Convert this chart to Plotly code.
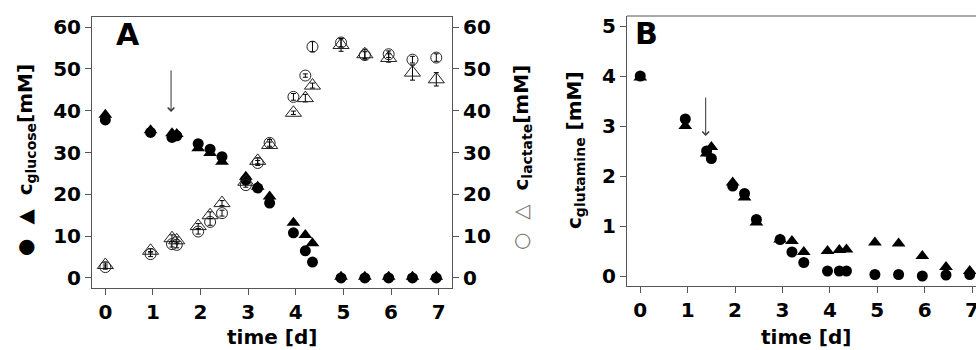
import plotly.graph_objects as go

# ---------------- data ----------------
time_d = [0, 0.95, 1.4, 1.5, 1.95, 2.2, 2.45, 2.95, 3.2, 3.45, 3.95, 4.2, 4.35,
          4.95, 5.45, 5.95, 6.45, 6.95]

glucose_circle = [37.8, 34.8, 33.6, 34.0, 32.1, 30.8, 29.0, 23.4, 21.5, 17.9,
                  10.8, 6.5, 3.8, 0.0, 0.0, 0.0, 0.0, 0.0]
glucose_triangle = [39.0, 35.3, 34.6, 34.4, 31.0, 29.9, 27.8, 24.2, 21.8, 19.5,
                    13.2, 10.3, 8.3, 0.3, 0.3, 0.3, 0.3, 0.3]

lactate_circle = [2.6, 5.7, 8.1, 7.9, 11.1, 13.4, 15.5, 22.2, 27.5, 32.3,
                  43.3, 48.4, 55.3, 56.3, 53.3, 53.5, 52.2, 52.7]
lactate_circle_err = [0.5, 0.6, 0.7, 0.7, 0.6, 0.8, 0.7, 0.5, 0.6, 0.8,
                      0.8, 0.4, 1.2, 1.0, 0.8, 0.8, 0.8, 0.9]
lactate_triangle = [3.1, 6.5, 9.5, 9.0, 12.4, 15.0, 17.9, 23.0, 28.0, 31.8,
                    39.5, 43.0, 46.0, 55.7, 53.5, 52.6, 49.1, 47.5]
lactate_triangle_err = [0.5, 0.5, 0.8, 0.8, 0.6, 0.8, 0.6, 0.5, 0.7, 0.7,
                        0.4, 0.9, 0.6, 1.5, 1.2, 1.0, 1.8, 1.6]

glutamine_circle = [4.0, 3.14, 2.5, 2.35, 1.8, 1.65, 1.13, 0.73, 0.48, 0.27,
                    0.1, 0.1, 0.1, 0.03, 0.03, 0.0, 0.02, 0.03]
glutamine_triangle = [3.97, 3.0, 2.45, 2.58, 1.87, 1.57, 1.07, 0.73, 0.70, 0.48,
                      0.5, 0.52, 0.53, 0.67, 0.65, 0.4, 0.18, 0.1]

x_ticks = [0, 1, 2, 3, 4, 5, 6, 7]
yA_ticks = [0, 10, 20, 30, 40, 50, 60]
yB_ticks = [0, 1, 2, 3, 4, 5]

feed_time = 1.38  # arrow position (feed)

# ---------------- styling ----------------
W, H = 976, 350
FONT = "DejaVu Sans"
GRAY = "#555555"
tickfont = dict(family=FONT, size=20, color="black", weight="bold")


def px_x(p):
    return p / W


def px_y(p):
    return 1 - p / H


fig = go.Figure()

# Panel A: lactate (open) on y2
fig.add_trace(go.Scatter(
    x=time_d, y=lactate_triangle, mode="markers", xaxis="x", yaxis="y2",
    error_y=dict(type="data", array=lactate_triangle_err, color="black",
                 thickness=1, width=2.5),
    marker=dict(symbol="triangle-up-open", size=14, color="#222222",
                line=dict(width=1, color="#222222"))))
fig.add_trace(go.Scatter(
    x=time_d, y=lactate_circle, mode="markers", xaxis="x", yaxis="y2",
    error_y=dict(type="data", array=lactate_circle_err, color="black",
                 thickness=1, width=2.5),
    marker=dict(symbol="circle-open", size=11, color="#222222",
                line=dict(width=1, color="#222222"))))
# Panel A: glucose (filled)
fig.add_trace(go.Scatter(
    x=time_d, y=glucose_triangle, mode="markers", xaxis="x", yaxis="y",
    marker=dict(symbol="triangle-up", size=12, color="black",
                line=dict(width=0))))
fig.add_trace(go.Scatter(
    x=time_d, y=glucose_circle, mode="markers", xaxis="x", yaxis="y",
    marker=dict(symbol="circle", size=11, color="black", line=dict(width=0))))

# Panel B: glutamine
fig.add_trace(go.Scatter(
    x=time_d, y=glutamine_triangle, mode="markers", xaxis="x2", yaxis="y3",
    marker=dict(symbol="triangle-up", size=12, color="black",
                line=dict(width=0))))
fig.add_trace(go.Scatter(
    x=time_d, y=glutamine_circle, mode="markers", xaxis="x2", yaxis="y3",
    marker=dict(symbol="circle", size=11, color="black", line=dict(width=0))))

axis_common = dict(showgrid=False, zeroline=False, ticks="outside", ticklen=6,
                   tickwidth=1, tickcolor=GRAY, tickfont=tickfont,
                   showline=True, linecolor=GRAY, linewidth=1,
                   automargin=False)

fig.update_layout(
    width=W, height=H,
    margin=dict(l=0, r=0, t=0, b=0),
    paper_bgcolor="white", plot_bgcolor="white",
    showlegend=False,
    xaxis=dict(domain=[px_x(92), px_x(452)], range=[-0.28, 7.28],
               tickvals=x_ticks, mirror=True, anchor="y", **axis_common),
    yaxis=dict(domain=[px_y(288), px_y(17)], range=[-2.4, 62.4],
               tickvals=yA_ticks, mirror=True, anchor="x", **axis_common),
    yaxis2=dict(domain=[px_y(288), px_y(17)], range=[-2.4, 62.4],
                tickvals=yA_ticks, overlaying="y", side="right", anchor="x",
                **axis_common),
    xaxis2=dict(domain=[px_x(627), 1.0],
                range=[-0.28, -0.28 + (976 - 627) / 47.4],
                tickvals=x_ticks, anchor="y3", ticklabeloverflow="allow",
                **axis_common),
    yaxis3=dict(domain=[px_y(286), px_y(16)], range=[-0.2, 5.2],
                tickvals=yB_ticks, anchor="x2", **axis_common),
)

# top frame line of panel B (its right edge is cut off by the image)
fig.add_shape(type="line", xref="paper", yref="paper",
              x0=px_x(627), x1=1.0, y0=px_y(16), y1=px_y(16),
              line=dict(color=GRAY, width=1))

title_font = dict(family=FONT, size=20, color="black", weight="bold")

annotations = [
    # panel letters
    dict(text="A", x=px_x(128), y=px_y(34), xref="paper", yref="paper",
         showarrow=False, font=dict(family=FONT, size=30, color="black",
                                    weight="bold"),
         xanchor="center", yanchor="middle"),
    dict(text="B", x=px_x(646), y=px_y(33), xref="paper", yref="paper",
         showarrow=False, font=dict(family=FONT, size=30, color="black",
                                    weight="bold"),
         xanchor="center", yanchor="middle"),
    # x titles
    dict(text="time [d]", x=px_x(272), y=px_y(337), xref="paper",
         yref="paper", showarrow=False, font=title_font,
         xanchor="center", yanchor="middle"),
    dict(text="time [d]", x=px_x(806), y=px_y(337), xref="paper",
         yref="paper", showarrow=False, font=title_font,
         xanchor="center", yanchor="middle"),
    # y titles
    dict(text="●  ▲  c<sub>glucose</sub>[mM]", x=px_x(26), y=px_y(160),
         xref="paper", yref="paper", showarrow=False, font=title_font,
         textangle=-90, xanchor="center", yanchor="middle"),
    dict(text="<span style='color:#777777;font-weight:normal'>○  △</span>  c<sub>lactate</sub>[mM]",
         x=px_x(522), y=px_y(158),
         xref="paper", yref="paper", showarrow=False, font=title_font,
         textangle=-90, xanchor="center", yanchor="middle"),
    dict(text="c<sub>glutamine</sub> [mM]", x=px_x(575), y=px_y(150),
         xref="paper", yref="paper", showarrow=False, font=title_font,
         textangle=-90, xanchor="center", yanchor="middle"),
    # feed arrows
    dict(x=feed_time, y=39.7, ax=feed_time, ay=50, xref="x", yref="y",
         axref="x", ayref="y", showarrow=True, text="", arrowhead=4,
         arrowsize=1.3, arrowwidth=1, arrowcolor="#333333"),
    dict(x=feed_time, y=2.8, ax=feed_time, ay=3.6, xref="x2", yref="y3",
         axref="x2", ayref="y3", showarrow=True, text="", arrowhead=4,
         arrowsize=1.3, arrowwidth=1, arrowcolor="#333333"),
]
fig.update_layout(annotations=annotations)

fig.write_html("out.html")
